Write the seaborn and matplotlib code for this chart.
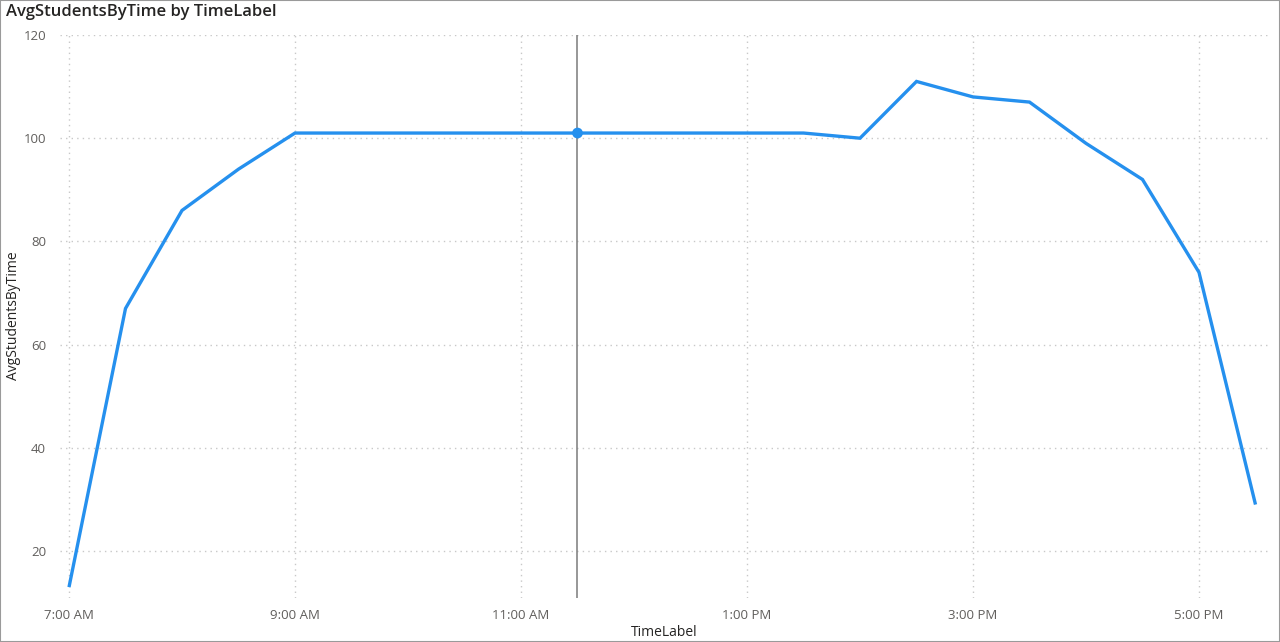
import matplotlib
matplotlib.use("Agg")
import matplotlib.pyplot as plt
import seaborn as sns
import pandas as pd
from matplotlib.patches import Rectangle

# Data
time_labels = ["7:00 AM", "7:30 AM", "8:00 AM", "8:30 AM", "9:00 AM", "9:30 AM",
               "10:00 AM", "10:30 AM", "11:00 AM", "11:30 AM", "12:00 PM", "12:30 PM",
               "1:00 PM", "1:30 PM", "2:00 PM", "2:30 PM", "3:00 PM", "3:30 PM",
               "4:00 PM", "4:30 PM", "5:00 PM", "5:30 PM"]
hours = [7.0, 7.5, 8.0, 8.5, 9.0, 9.5, 10.0, 10.5, 11.0, 11.5, 12.0, 12.5,
         13.0, 13.5, 14.0, 14.5, 15.0, 15.5, 16.0, 16.5, 17.0, 17.5]
avg_students = [13, 67, 86, 94, 101, 101, 101, 101, 101, 101, 101, 101,
                101, 101, 100, 111, 108, 107, 99, 92, 74, 29]
tick_hours = [7, 9, 11, 13, 15, 17]
tick_labels = ["7:00 AM", "9:00 AM", "11:00 AM", "1:00 PM", "3:00 PM", "5:00 PM"]
y_ticks = [20, 40, 60, 80, 100, 120]
hover_hour = 11.5
hover_value = 101

df = pd.DataFrame({"hour": hours, "AvgStudentsByTime": avg_students, "TimeLabel": time_labels})

sns.set_theme(style="white")
plt.rcParams["font.family"] = ["Open Sans", "DejaVu Sans"]

fig = plt.figure(figsize=(12.8, 6.42), dpi=100)
ax = fig.add_axes([60 / 1280, 1 - 598 / 642, (1268 - 60) / 1280, (598 - 35) / 642])

line_color = "#2590EE"
sns.lineplot(data=df, x="hour", y="AvgStudentsByTime", ax=ax, color=line_color,
             linewidth=2.4, solid_capstyle="butt", solid_joinstyle="miter", zorder=3)

ax.axvline(hover_hour, color="#7a7a7a", linewidth=1.1, zorder=2)
ax.scatter([hover_hour], [hover_value], s=60, color=line_color, zorder=4, edgecolor="none")

x0 = 7 - 9 / 113
x1 = 7 + (1268 - 69) / 113
ax.set_xlim(x0, x1)
ax.set_ylim(120 - (598 - 35) / 5.16, 120)

ax.set_xticks(tick_hours)
ax.set_xticklabels(tick_labels)
ax.set_yticks(y_ticks)

for s in ax.spines.values():
    s.set_visible(False)

ax.grid(True, which="major", axis="both", color="#c8c8c8", linestyle=(0, (1, 3)), linewidth=1)
ax.tick_params(axis="both", length=0, labelsize=9.5, labelcolor="#605E5C")
ax.tick_params(axis="x", pad=8)
ax.tick_params(axis="y", pad=10)

ax.set_xlabel("")
ax.set_ylabel("")
fig.text(664 / 1280, 1 - 633 / 642, "TimeLabel", fontsize=10, color="#252423",
         ha="center", va="center")
fig.text(14 / 1280, 1 - 316 / 642, "AvgStudentsByTime", fontsize=10, color="#252423",
         ha="center", va="center", rotation=90)

fig.text(6 / 1280, 1 - 12 / 642, "AvgStudentsByTime by TimeLabel", fontsize=12,
         color="#252423", ha="left", va="center", fontweight="semibold")

fig.patches.append(Rectangle((0, 0), 1, 1, transform=fig.transFigure, fill=False,
                             edgecolor="#9a9a9a", linewidth=1.5, zorder=10))

fig.savefig("out.png", dpi=100)
